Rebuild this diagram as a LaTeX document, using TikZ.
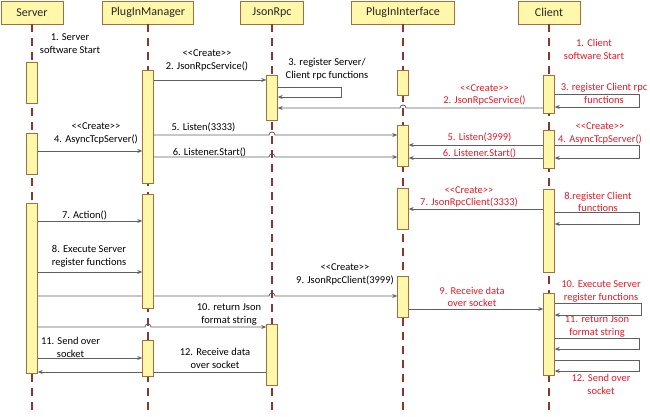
\documentclass[tikz,border=0pt]{standalone}
\usepackage{fontspec}
\setmainfont{Carlito}
\usetikzlibrary{arrows.meta, calc, backgrounds}
\definecolor{boxfill}{RGB}{255,247,170}
\definecolor{boxline}{RGB}{166,110,62}
\definecolor{lifeline}{RGB}{140,55,45}
\definecolor{msgline}{RGB}{95,95,95}
\definecolor{redtext}{RGB}{232,24,40}
% small bridge where a message crosses a lifeline
\newcommand{\hop}[3]{-- ($(#1 |- 0,#2)+(#3,0)$) .. controls ($(#1 |- 0,#2)+(#3,-4)$) and ($(#1 |- 0,#2)-(#3,4)$) .. ($(#1 |- 0,#2)-(#3,0)$)}
\newcommand{\create}{<\kern0pt<Create>\kern0pt>}

\begin{document}
\begin{tikzpicture}[yscale=-1, x=1pt, y=1pt, >={Stealth[length=5pt, width=4pt]},
    head/.style={draw=boxline, fill=boxfill, minimum height=23pt, inner sep=0pt, font=\fontsize{12}{14}\selectfont, text=black!85},
    act/.style={draw=boxline, fill=boxfill, minimum width=11pt, inner sep=0pt},
    life/.style={draw=lifeline, line width=1.1pt, dash pattern=on 8pt off 6pt},
    msg/.style={->, draw=msgline, line width=0.8pt},
    lbl/.style={align=center, inner sep=0pt, font=\fontsize{10.5}{13}\selectfont},
    rlbl/.style={lbl, text=redtext, font=\fontsize{10.5}{12.5}\selectfont}]
    \useasboundingbox (0,0) rectangle (650,416);

    \node[head, minimum width=62pt] (server) at (32,12.5) {Server};
    \node[head, minimum width=91pt] (manager) at (148,12.5) {PlugInManager};
    \node[head, minimum width=63pt] (jsonrpc) at (272,12.5) {JsonRpc};
    \node[head, minimum width=103pt] (iface) at (403,12.5) {PlugInInterface};
    \node[head, minimum width=62pt] (client) at (549,12.5) {Client};

    \foreach \n in {server, manager, jsonrpc, iface, client}
        \draw[life] (\n.south) -- (\n.south |- 0,416);

    % activations
    \node[act, minimum height=41pt] (a1) at (32,82.5) {};
    \node[act, minimum height=41pt] (a2) at (32,153.5) {};
    \node[act, minimum height=170pt] (a3) at (32,288) {};
    \node[act, minimum height=113pt] (b1) at (148,126.5) {};
    \node[act, minimum height=114pt] (b2) at (148,251) {};
    \node[act, minimum height=36pt] (b3) at (148,358) {};
    \node[act, minimum height=45pt] (c1) at (272,97.5) {};
    \node[act, minimum height=61pt] (c2) at (272,354.5) {};
    \node[act, minimum height=25pt] (d1) at (403,82.5) {};
    \node[act, minimum height=41pt] (d2) at (403,145.5) {};
    \node[act, minimum height=41pt] (d3) at (403,208.5) {};
    \node[act, minimum height=41pt] (d4) at (403,296.5) {};
    \node[act, minimum height=38pt] (e1) at (549,94) {};
    \node[act, minimum height=38pt] (e2) at (549,149) {};
    \node[act, minimum height=83pt] (e3) at (549,230.5) {};
    \node[act, minimum height=82pt] (e4) at (549,334) {};

    % server side
    \node[lbl] (l1) at (70,43.5) {1. Server\\software Start};
    \node[lbl] (l2) at (207,60.5) {\create\\2. JsonRpcService()};
    \node[lbl] (l3) at (327,69.5) {3. register Server/\\Client rpc functions};
    \node[lbl] (l4) at (96,133) {\create\\4. AsyncTcpServer()};
    \node[lbl] (l5) at (203.5,127) {5. Listen(3333)};
    \node[lbl] (l6) at (209.5,152) {6. Listener.Start()};
    \node[lbl] (l7) at (84.5,215) {7. Action()};
    \node[lbl] (l8) at (89,256.5) {8. Execute Server\\register functions};
    \node[lbl] (l9) at (345,274) {\create\\9. JsonRpcClient(3999)};
    \node[lbl] (l10) at (229,314) {10. return Json\\format string};
    \node[lbl] (l11) at (70.5,347) {11. Send over\\socket};
    \node[lbl] (l12) at (215,358.5) {12. Receive data\\over socket};

    \draw[msg] (b1.east |- 0,80) -- (c1.west |- 0,80);
    \draw[msg] (c1.east |- 0,87) -- ++(64,0) |- (c1.east |- 0,97);
    \draw[msg] (a2.east |- 0,151) -- (b1.west |- 0,151);
    \draw[msg] (b1.east |- 0,135) \hop{jsonrpc}{135}{-3} -- (d2.west |- 0,135);
    \draw[msg] (b1.east |- 0,157) \hop{jsonrpc}{157}{-3} -- (d2.west |- 0,157);
    \draw[msg] (a3.east |- 0,221) -- (b2.west |- 0,221);
    \draw[msg] (a3.east |- 0,272) -- (b2.west |- 0,272);
    \draw[msg] (a3.east |- 0,327) \hop{manager}{327}{-3} -- (c2.west |- 0,327);
    \draw[msg] (a3.east |- 0,358) -- (b3.west |- 0,358);
    \begin{pgfonlayer}{background}
        \draw[msg] (a3.east |- 0,296) \hop{jsonrpc}{296}{-3} -- (d4.west |- 0,296);
        \draw[msg] (c2.west |- 0,372) -- (a3.east |- 0,372);
    \end{pgfonlayer}

    % client side
    \node[rlbl] (r1) at (594,49.5) {1. Client\\software Start};
    \node[rlbl] (r2) at (484.5,95) {\create\\2. JsonRpcService()};
    \node[rlbl] (r3) at (604,93.5) {3. register Client rpc\\functions};
    \node[rlbl] (r4) at (600,133.5) {\create\\4. AsyncTcpServer()};
    \node[rlbl] (r5) at (479.5,137) {5. Listen(3999)};
    \node[rlbl] (r6) at (479.5,153) {6. Listener.Start()};
    \node[rlbl] (r7) at (469,197) {\create\\7. JsonRpcClient(3333)};
    \node[rlbl] (r8) at (598,202) {8.register Client\\functions};
    \node[rlbl] (r9) at (472,297) {9. Receive data\\over socket};
    \node[rlbl] (r10) at (601,291.5) {10. Execute Server\\register functions};
    \node[rlbl] (r11) at (597,326.5) {11. return Json\\format string};
    \node[rlbl] (r12) at (601,384.5) {12. Send over\\socket};

    \draw[msg] (e1.west |- 0,108) \hop{iface}{108}{3} -- (c1.east |- 0,108);
    \draw[msg] (e1.east |- 0,94) -- ++(85,0) |- (e1.east |- 0,107);
    \draw[msg] (e2.east |- 0,145) -- ++(85,0) |- (e2.east |- 0,158);
    \draw[msg] (e2.west |- 0,145) -- (d2.east |- 0,145);
    \draw[msg] (e2.west |- 0,158) -- (d2.east |- 0,158);
    \draw[msg] (e3.west |- 0,209) -- (d3.east |- 0,209);
    \draw[msg] (e3.east |- 0,212) -- ++(85,0) |- (e3.east |- 0,224);
    \draw[msg] (d4.east |- 0,309) -- (e4.west |- 0,309);
    \draw[msg] (e4.east |- 0,303) -- ++(87,0) |- (e4.east |- 0,315);
    \draw[msg] (e4.east |- 0,338) -- ++(85,0) |- (e4.east |- 0,349);
    \draw[msg] (e4.east |- 0,360) -- ++(85,0) |- (e4.east |- 0,371);
\end{tikzpicture}
\end{document}
